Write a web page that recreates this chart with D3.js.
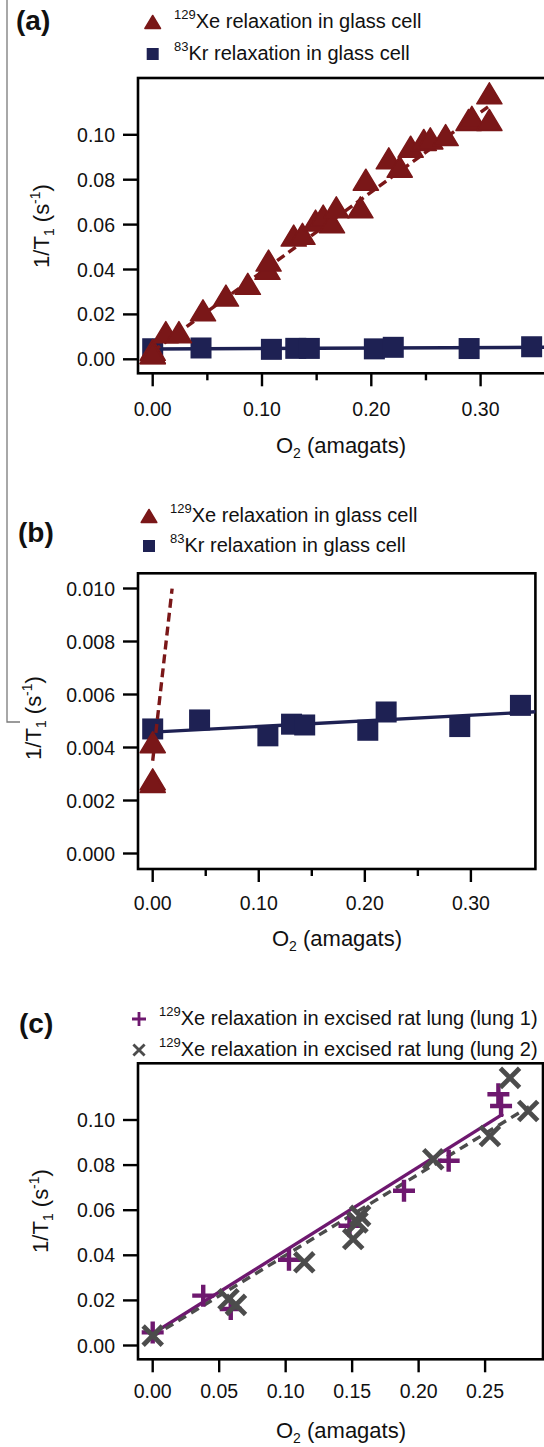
<!DOCTYPE html>
<html><head><meta charset="utf-8">
<script src="https://cdn.jsdelivr.net/npm/d3@7"></script>
<style>
body{margin:0;background:#fff}
svg{display:block}
text{font-family:"Liberation Sans",Arial,Helvetica,sans-serif;fill:#111}
</style>
</head><body>
<svg id="chart" width="544" height="1447"></svg>
<script>
// ---------------- data ----------------
const xeO2   = [0, 0, 0, 0.012, 0.024, 0.046, 0.067, 0.087, 0.105, 0.106, 0.129, 0.137, 0.149, 0.156, 0.164, 0.168, 0.190, 0.195, 0.216, 0.226, 0.236, 0.248, 0.254, 0.268, 0.289, 0.292, 0.308, 0.308];
const xeRate = [0.0042, 0.0028, 0.0027, 0.0121, 0.0121, 0.0218, 0.0284, 0.0336, 0.0403, 0.0440, 0.0551, 0.0559, 0.0618, 0.0640, 0.0610, 0.0677, 0.0677, 0.0800, 0.0895, 0.0858, 0.0947, 0.0977, 0.0984, 0.0999, 0.1066, 0.1080, 0.1066, 0.1185];
const krO2   = [0, 0.0442, 0.1086, 0.1309, 0.1433, 0.2028, 0.2201, 0.2895, 0.3467];
const krRate = [0.0047, 0.00504, 0.00444, 0.00488, 0.00485, 0.00465, 0.00534, 0.00479, 0.00559];
const lung1O2   = [0, 0.038, 0.0587, 0.1025, 0.148, 0.189, 0.2226, 0.260, 0.262];
const lung1Rate = [0.0058, 0.0221, 0.0162, 0.0380, 0.0531, 0.0686, 0.0819, 0.1114, 0.1062];
const lung2O2   = [0, 0.057, 0.0626, 0.1140, 0.1508, 0.154, 0.156, 0.211, 0.2536, 0.2687, 0.2824];
const lung2Rate = [0.0044, 0.0205, 0.0180, 0.0369, 0.0472, 0.0546, 0.0575, 0.0826, 0.0929, 0.1187, 0.1040];
// linear fits: [intercept, slope] and O2 range drawn
const xeFit = [0.0035, 0.355];
const xeFitRangeA = [0, 0.31];
const xeFitRangeB = [0, 0.0183];
const krFit = [0.00458, 0.00213];
const krFitRange = [0, 0.37];
const lung1Fit = [0.0052, 0.37];
const lung1FitRange = [0, 0.2636];
const lung2Fit = [0.0040, 0.36];
const lung2FitRange = [0, 0.283];
// ticks
const xTicksAB = [0, 0.1, 0.2, 0.3];
const xMinorAB = [0.05, 0.15, 0.25];
const xTicksC = [0, 0.05, 0.10, 0.15, 0.20, 0.25];
const yTicksA = [0, 0.02, 0.04, 0.06, 0.08, 0.10];
const yTicksB = [0, 0.002, 0.004, 0.006, 0.008, 0.010];
const yTicksC = [0, 0.02, 0.04, 0.06, 0.08, 0.10];
const legendAB = [{iso:"129", text:"Xe relaxation in glass cell", mark:"tri"}, {iso:"83", text:"Kr relaxation in glass cell", mark:"sq"}];
const legendC = [{iso:"129", text:"Xe relaxation in excised rat lung (lung 1)", mark:"plus"}, {iso:"129", text:"Xe relaxation in excised rat lung (lung 2)", mark:"cross"}];

// ---------------- styles ----------------
const RED = "#7a1718", NAVY = "#1e2153", PURPLE = "#6e186f", GRAY = "#4c4c4c";
const svg = d3.select("#chart");
const defs = svg.append("defs");

// decorative left rule
svg.append("path").attr("d", "M7,0 L7,722 L20,722").attr("fill", "none").attr("stroke", "#7a7a7a").attr("stroke-width", 1.3);

function tri(w, h) { return `M0,${-h/2}L${w/2},${h/2}L${-w/2},${h/2}Z`; }

function drawMarker(g, type, cx, cy, s) {
  if (type === "tri") {
    g.append("path").attr("d", tri(s * 1.2, s)).attr("transform", `translate(${cx},${cy})`)
      .attr("fill", RED).attr("stroke", RED).attr("stroke-width", 1.5).attr("stroke-linejoin", "round");
  } else if (type === "sq") {
    g.append("rect").attr("x", cx - s/2).attr("y", cy - s/2).attr("width", s).attr("height", s).attr("fill", NAVY);
  } else if (type === "plus") {
    g.append("path").attr("d", `M${cx - s/2},${cy}H${cx + s/2}M${cx},${cy - s/2}V${cy + s/2}`)
      .attr("stroke", PURPLE).attr("stroke-width", s * 0.2).attr("fill", "none");
  } else if (type === "cross") {
    const d = s / 2 * 0.8;
    g.append("path").attr("d", `M${cx - d},${cy - d}L${cx + d},${cy + d}M${cx - d},${cy + d}L${cx + d},${cy - d}`)
      .attr("stroke", GRAY).attr("stroke-width", s * 0.2).attr("fill", "none");
  }
}

function panel(cfg) {
  const x = d3.scaleLinear().domain(cfg.xDomain).range(cfg.xRange);
  const y = d3.scaleLinear().domain(cfg.yDomain).range(cfg.yRange);
  const f = cfg.frame;
  const g = svg.append("g");
  const clipId = "clip-" + cfg.id;
  defs.append("clipPath").attr("id", clipId).append("rect")
    .attr("x", f.l).attr("y", f.t).attr("width", f.r - f.l).attr("height", f.b - f.t);

  // x ticks
  const xf = d3.format(".2f");
  cfg.xTicks.forEach(t => {
    g.append("line").attr("x1", x(t)).attr("x2", x(t)).attr("y1", f.b).attr("y2", f.b + 13)
      .attr("stroke", "#000").attr("stroke-width", 2.4);
    g.append("text").attr("x", x(t)).attr("y", cfg.xLabelBase).attr("text-anchor", "middle")
      .attr("font-size", 19.5).text(xf(t));
  });
  (cfg.xMinor || []).forEach(t => {
    g.append("line").attr("x1", x(t)).attr("x2", x(t)).attr("y1", f.b).attr("y2", f.b + 7)
      .attr("stroke", "#000").attr("stroke-width", 2.4);
  });
  // y ticks
  const yf = d3.format(cfg.yFmt);
  cfg.yTicks.forEach(t => {
    g.append("line").attr("x1", f.l - 15).attr("x2", f.l).attr("y1", y(t)).attr("y2", y(t))
      .attr("stroke", "#000").attr("stroke-width", 2.4);
    g.append("text").attr("x", f.l - 23).attr("y", y(t) + 7).attr("text-anchor", "end")
      .attr("font-size", 19.5).text(yf(t));
  });
  // frame
  g.append("rect").attr("x", f.l).attr("y", f.t).attr("width", f.r - f.l).attr("height", f.b - f.t)
    .attr("fill", "none").attr("stroke", "#000").attr("stroke-width", 2.6);

  // x title
  const xt = g.append("text").attr("x", cfg.xTitle[0]).attr("y", cfg.xTitle[1]).attr("text-anchor", "middle").attr("font-size", 22);
  xt.append("tspan").text("O");
  xt.append("tspan").attr("font-size", 14).attr("dy", 5).text("2");
  xt.append("tspan").attr("dy", -5).text(" (amagats)");
  // y title
  const yt = g.append("text").attr("transform", `translate(${cfg.yTitle[0]},${cfg.yTitle[1]}) rotate(-90)`)
    .attr("text-anchor", "middle").attr("font-size", 22).attr("y", 8);
  yt.append("tspan").text("1/T");
  yt.append("tspan").attr("font-size", 14).attr("dy", 5).text("1");
  yt.append("tspan").attr("dy", -5).text(" (s");
  yt.append("tspan").attr("font-size", 14).attr("dy", -9).text("-1");
  yt.append("tspan").attr("dy", 9).text(")");

  // panel label
  g.append("text").attr("x", cfg.label[1]).attr("y", cfg.label[2]).attr("font-size", 28).attr("font-weight", "bold").text(cfg.label[0]);

  // legend
  cfg.legend.forEach((d, i) => {
    const by = cfg.legendBase[i];
    drawMarker(g, d.mark, cfg.legendMarkX, by - 6, d.mark === "tri" ? 13 : (d.mark === "sq" ? 12 : 14));
    const t = g.append("text").attr("x", cfg.legendTextX).attr("y", by).attr("font-size", 20);
    t.append("tspan").attr("font-size", 13).attr("dy", -9).text(d.iso);
    t.append("tspan").attr("dy", 9).text(d.text);
  });

  return { x, y, g, f, clip: `url(#${clipId})` };
}

function fitLine(p, fit, range, color, dash) {
  const pts = range.map(v => [v, fit[0] + fit[1] * v]);
  p.g.append("path").attr("clip-path", p.clip)
    .attr("d", d3.line().x(d => p.x(d[0])).y(d => p.y(d[1]))(pts))
    .attr("fill", "none").attr("stroke", color).attr("stroke-width", 3.4)
    .attr("stroke-dasharray", dash || null);
}

function scatter(p, xs, ys, type, size) {
  xs.forEach((v, i) => {
    const px = p.x(v), py = p.y(ys[i]);
    if (py < p.f.t || py > p.f.b || px < p.f.l || px > p.f.r) return; // outside this panel's frame
    drawMarker(p.g, type, px, py, size);
  });
}

// ---------- panel (a) ----------
const pa = panel({
  id: "a", xDomain: [0, 0.3], xRange: [152.7, 480.6], yDomain: [0, 0.1], yRange: [359.3, 134.8],
  frame: { l: 138, r: 570, t: 78, b: 373.3 }, xTicks: xTicksAB, xMinor: xMinorAB, yTicks: yTicksA, yFmt: ".2f",
  xLabelBase: 416, xTitle: [341, 453], yTitle: [41, 226], label: ["(a)", 16, 30],
  legend: legendAB, legendBase: [28, 60], legendMarkX: 152.7, legendTextX: 174
});
fitLine(pa, krFit, krFitRange, NAVY);
scatter(pa, krO2, krRate, "sq", 21);
fitLine(pa, xeFit, xeFitRangeA, RED, "9,5");
scatter(pa, xeO2, xeRate, "tri", 21);

// ---------- panel (b) ----------
const pb = panel({
  id: "b", xDomain: [0, 0.3], xRange: [152.7, 470.9], yDomain: [0, 0.01], yRange: [853.5, 588.5],
  frame: { l: 138, r: 535.4, t: 573.3, b: 869 }, xTicks: xTicksAB, xMinor: xMinorAB, yTicks: yTicksB, yFmt: ".3f",
  xLabelBase: 910, xTitle: [337, 946], yTitle: [33, 718], label: ["(b)", 18, 542],
  legend: legendAB, legendBase: [522, 552], legendMarkX: 149, legendTextX: 170
});
fitLine(pb, krFit, krFitRange, NAVY);
scatter(pb, krO2, krRate, "sq", 21);
fitLine(pb, xeFit, xeFitRangeB, RED, "9,5");
scatter(pb, xeO2, xeRate, "tri", 21);

// ---------- panel (c) ----------
const pc = panel({
  id: "c", xDomain: [0, 0.25], xRange: [152.7, 485.1], yDomain: [0, 0.1], yRange: [1345.5, 1120],
  frame: { l: 138, r: 543, t: 1063.3, b: 1359.3 }, xTicks: xTicksC, xMinor: [], yTicks: yTicksC, yFmt: ".2f",
  xLabelBase: 1398, xTitle: [341, 1438], yTitle: [40, 1211], label: ["(c)", 19, 1033],
  legend: legendC, legendBase: [1025, 1056], legendMarkX: 139, legendTextX: 159
});
fitLine(pc, lung1Fit, lung1FitRange, PURPLE);
fitLine(pc, lung2Fit, lung2FitRange, GRAY, "9,6");
scatter(pc, lung1O2, lung1Rate, "plus", 22);
scatter(pc, lung2O2, lung2Rate, "cross", 24);
</script>
</body></html>
